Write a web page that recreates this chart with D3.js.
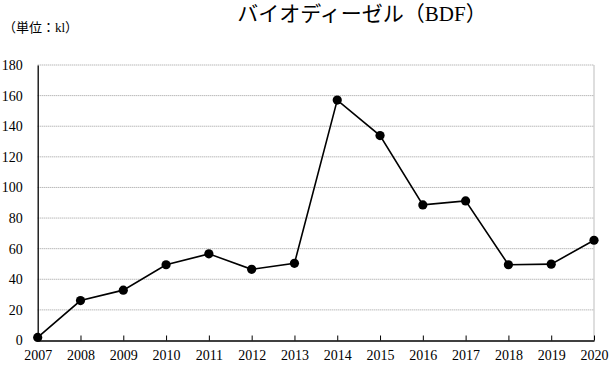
<!DOCTYPE html>
<html>
<head>
<meta charset="utf-8">
<script src="https://cdn.jsdelivr.net/npm/d3@7"></script>
<style>
  html, body { margin: 0; padding: 0; background: #fff; }
</style>
</head>
<body>
<svg id="chart" width="611" height="368"></svg>
<script>
// Annual BDF volume (kl)
const years = ["2007","2008","2009","2010","2011","2012","2013","2014","2015","2016","2017","2018","2019","2020"];
const volumes = [2.0, 26.1, 32.9, 49.5, 56.6, 46.5, 50.4, 157.1, 133.9, 88.6, 91.2, 49.5, 49.9, 65.5];
const yTicks = [0, 20, 40, 60, 80, 100, 120, 140, 160, 180];

const titleText = "バイオディーゼル（BDF）";
const unitText = "（単位：kl）";

const serif = "'Liberation Serif', 'Times New Roman', 'Noto Sans CJK JP', serif";

const svg = d3.select("#chart");
const plotLeft = 37.7, plotRight = 594, plotTop = 65, plotBottom = 340.5;

const x = d3.scalePoint().domain(years).range([plotLeft, plotRight]);
const y = d3.scaleLinear().domain([0, 180]).range([plotBottom, plotTop]);

// horizontal gridlines
svg.append("g")
  .selectAll("line")
  .data(yTicks.filter(d => d > 0))
  .join("line")
  .attr("x1", plotLeft).attr("x2", plotRight)
  .attr("y1", d => y(d)).attr("y2", d => y(d))
  .attr("stroke", "#9a9a9a")
  .attr("stroke-width", 1)
  .attr("stroke-dasharray", "1,1");

// right frame edge
svg.append("line")
  .attr("x1", plotRight).attr("x2", plotRight)
  .attr("y1", plotTop).attr("y2", plotBottom)
  .attr("stroke", "#bdbdbd").attr("stroke-width", 1);

// y axis
const yAxis = d3.axisLeft(y).tickValues(yTicks).tickSize(0).tickPadding(15);
const gy = svg.append("g").attr("transform", `translate(${plotLeft},0)`).call(yAxis);
gy.select(".domain").attr("stroke", "#000").attr("stroke-width", 1.3);
gy.selectAll("text").style("font-family", serif).style("font-size", "14px").attr("fill", "#000");

// x axis with inward ticks
const xAxis = d3.axisBottom(x).tickSizeInner(-5).tickSizeOuter(0).tickPadding(10);
const gx = svg.append("g").attr("transform", `translate(0,${plotBottom})`).call(xAxis);
gx.select(".domain").attr("stroke", "#000").attr("stroke-width", 1.3);
gx.selectAll(".tick line").attr("stroke", "#000");
gx.selectAll("text").style("font-family", serif).style("font-size", "14px").attr("fill", "#000");

// series line
const line = d3.line().x((d, i) => x(years[i])).y(d => y(d));
svg.append("path")
  .datum(volumes)
  .attr("d", line)
  .attr("fill", "none")
  .attr("stroke", "#000")
  .attr("stroke-width", 1.6);

// markers
svg.append("g")
  .selectAll("circle")
  .data(volumes)
  .join("circle")
  .attr("cx", (d, i) => x(years[i]))
  .attr("cy", d => y(d))
  .attr("r", 4.6)
  .attr("fill", "#000");

// title and unit label
svg.append("text")
  .attr("x", 362).attr("y", 21)
  .attr("text-anchor", "middle")
  .style("font-family", serif)
  .style("font-size", "21px")
  .text(titleText);

svg.append("text")
  .attr("x", 3).attr("y", 32)
  .style("font-family", serif)
  .style("font-size", "13px")
  .text(unitText);
</script>
</body>
</html>
